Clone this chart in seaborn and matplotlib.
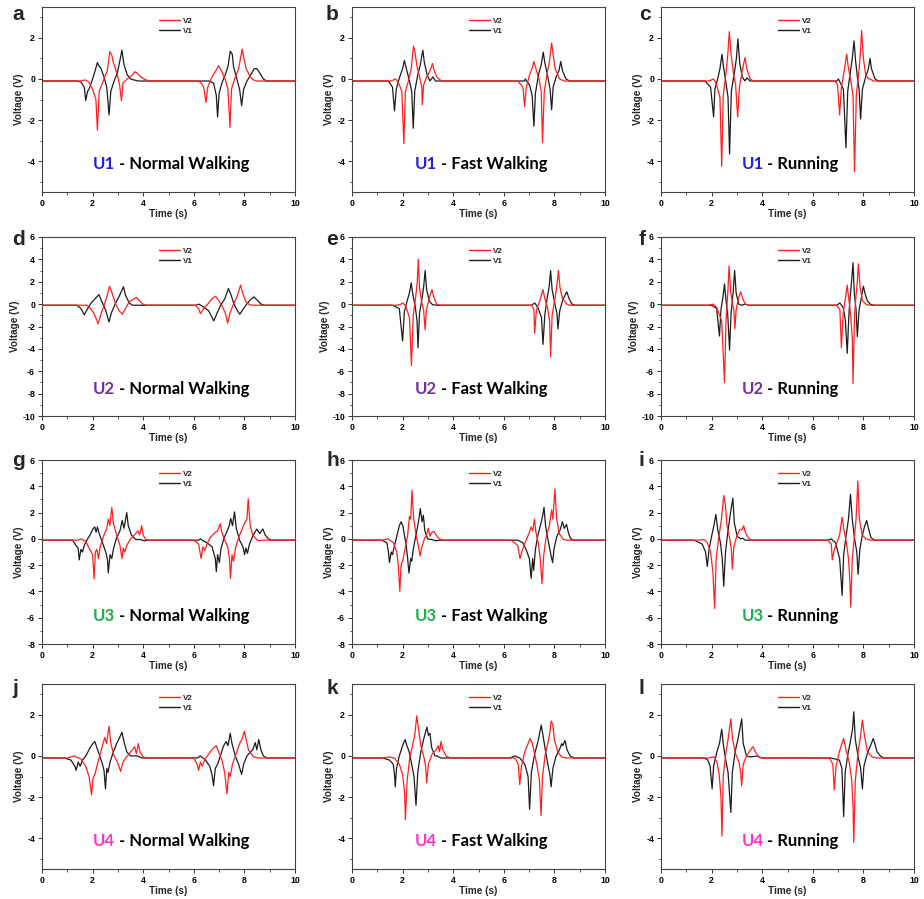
import matplotlib
matplotlib.use('Agg')
import matplotlib.pyplot as plt
import seaborn as sns
import pandas as pd
from matplotlib.offsetbox import TextArea, HPacker, AnchoredOffsetbox
from matplotlib.lines import Line2D
from matplotlib.ticker import MultipleLocator

# ---------------- data: (time s, voltage V) vertices ----------------
A_V2 = [(0,-0.1),(1.5,-0.1),(1.7,-0.05),(1.85,-0.15),(2.0,-0.5),(2.13,-1.0),(2.19,-2.49),(2.26,-0.6),(2.39,-0.2),(2.45,0.0),(2.58,0.4),(2.68,1.33),(2.76,1.15),(2.82,0.8),(2.98,0.2),(3.07,-0.3),(3.14,-1.06),(3.2,-0.2),(3.37,0.0),(3.57,0.2),(3.67,0.35),(3.77,0.28),(3.9,0.1),(4.1,-0.05),(4.3,-0.1),(6.1,-0.1),(6.26,-0.15),(6.39,-0.4),(6.48,-1.15),(6.55,-0.4),(6.72,0.1),(6.92,0.5),(6.98,0.65),(7.09,0.4),(7.24,0.0),(7.35,-0.5),(7.43,-2.35),(7.49,-0.5),(7.64,0.1),(7.77,0.5),(7.86,1.1),(7.91,1.45),(7.98,1.0),(8.07,0.5),(8.23,0.1),(8.36,-0.05),(8.5,-0.1),(10,-0.1)]
A_V1 = [(0,-0.1),(1.4,-0.1),(1.54,-0.15),(1.67,-0.4),(1.73,-1.05),(1.8,-0.6),(1.86,-0.5),(2.0,0.0),(2.1,0.4),(2.19,0.8),(2.26,0.6),(2.32,0.55),(2.45,0.1),(2.56,-0.4),(2.65,-1.75),(2.72,-0.6),(2.85,-0.1),(2.98,0.3),(3.08,0.9),(3.16,1.4),(3.24,0.7),(3.37,0.2),(3.5,0.0),(3.64,-0.05),(3.8,-0.1),(6.6,-0.1),(6.78,-0.2),(6.89,-0.8),(6.94,-1.85),(7.0,-0.7),(7.11,-0.2),(7.24,0.2),(7.35,0.6),(7.44,1.35),(7.52,1.2),(7.57,0.6),(7.7,0.0),(7.81,-0.5),(7.89,-1.3),(7.97,-0.5),(8.1,-0.1),(8.25,0.2),(8.39,0.5),(8.49,0.5),(8.6,0.3),(8.75,0.0),(8.88,-0.1),(10,-0.1)]
B_V2 = [(0,-0.1),(1.55,-0.1),(1.64,-0.05),(1.7,0.0),(1.76,-0.05),(1.84,-0.2),(1.97,-0.6),(2.05,-3.15),(2.11,-0.6),(2.23,-0.1),(2.34,0.5),(2.43,1.6),(2.49,1.3),(2.57,0.6),(2.69,0.0),(2.76,-0.4),(2.78,-1.25),(2.83,-0.3),(2.95,0.1),(3.08,0.4),(3.18,0.75),(3.25,0.4),(3.35,0.1),(3.48,-0.05),(3.6,-0.1),(6.45,-0.1),(6.56,-0.12),(6.76,-0.4),(6.82,-1.35),(6.89,-0.4),(7.02,0.2),(7.14,0.6),(7.19,0.85),(7.27,0.5),(7.39,0.0),(7.48,-0.6),(7.53,-3.1),(7.6,-0.6),(7.72,0.3),(7.81,0.9),(7.89,1.75),(7.95,1.2),(8.03,0.5),(8.2,0.0),(8.4,-0.1),(10,-0.1)]
B_V1 = [(0,-0.1),(1.44,-0.1),(1.6,-0.4),(1.68,-1.55),(1.75,-0.5),(1.86,0.0),(2.0,0.5),(2.07,0.9),(2.15,0.5),(2.27,-0.1),(2.36,-0.6),(2.42,-2.4),(2.48,-0.6),(2.6,0.2),(2.7,0.7),(2.8,1.4),(2.86,0.8),(2.97,0.2),(3.08,-0.1),(3.2,0.1),(3.3,-0.1),(6.7,-0.1),(6.82,-0.1),(6.85,0.0),(6.9,-0.1),(7.02,-0.3),(7.12,-0.8),(7.19,-2.3),(7.25,-0.7),(7.37,0.2),(7.48,0.7),(7.56,1.3),(7.62,0.8),(7.74,0.1),(7.83,-0.5),(7.89,-1.5),(7.95,-0.4),(8.07,0.1),(8.18,0.4),(8.25,0.85),(8.32,0.4),(8.46,0.0),(8.6,-0.1),(10,-0.1)]
C_V2 = [(0,-0.1),(1.87,-0.1),(2.0,-0.05),(2.07,0.0),(2.13,-0.1),(2.2,-0.3),(2.33,-0.9),(2.4,-4.25),(2.46,-0.8),(2.57,0.3),(2.64,1.2),(2.7,2.3),(2.77,1.2),(2.86,0.3),(2.95,-0.3),(3.03,-1.85),(3.1,-0.4),(3.21,0.4),(3.32,1.05),(3.39,0.5),(3.52,0.0),(3.65,-0.1),(6.88,-0.1),(6.98,-0.3),(7.06,-1.75),(7.13,-0.4),(7.23,0.3),(7.34,1.2),(7.4,0.6),(7.5,-0.1),(7.59,-0.8),(7.65,-4.5),(7.72,-0.8),(7.83,0.5),(7.88,1.2),(7.93,2.35),(8.0,1.0),(8.09,0.2),(8.2,0.0),(8.26,0.0),(8.39,-0.1),(10,-0.1)]
C_V1 = [(0,-0.1),(1.74,-0.1),(1.96,-0.4),(2.08,-1.85),(2.13,-0.5),(2.24,0.0),(2.33,0.5),(2.41,1.2),(2.48,0.5),(2.57,-0.2),(2.65,-0.9),(2.71,-3.65),(2.78,-0.6),(2.9,0.3),(2.98,1.0),(3.04,1.95),(3.11,0.8),(3.21,0.1),(3.32,-0.1),(3.39,0.05),(3.52,-0.1),(6.95,-0.1),(7.01,0.0),(7.05,-0.1),(7.21,-0.5),(7.31,-3.35),(7.38,-0.6),(7.48,0.3),(7.56,1.0),(7.63,1.85),(7.69,0.9),(7.77,0.0),(7.83,-0.5),(7.89,-1.95),(7.96,-0.5),(8.09,0.1),(8.2,0.5),(8.26,1.0),(8.32,0.5),(8.46,0.0),(8.59,-0.1),(10,-0.1)]
D_V2 = [(0,-0.1),(1.75,-0.1),(1.84,-0.2),(2.05,-0.8),(2.22,-1.75),(2.34,-0.8),(2.47,0.0),(2.58,0.8),(2.67,1.6),(2.77,1.0),(2.91,0.0),(3.05,-0.6),(3.18,-0.9),(3.32,-0.3),(3.45,0.2),(3.65,0.5),(3.74,0.6),(3.85,0.3),(3.98,0.0),(4.12,-0.1),(6.06,-0.1),(6.19,-0.4),(6.26,-0.85),(6.39,-0.4),(6.59,0.1),(6.72,0.5),(6.86,0.7),(6.99,0.3),(7.13,-0.2),(7.26,-0.9),(7.34,-1.7),(7.43,-0.8),(7.59,0.1),(7.73,0.8),(7.85,1.7),(7.93,1.0),(8.06,0.2),(8.2,-0.05),(8.33,-0.1),(10,-0.1)]
D_V1 = [(0,-0.1),(1.38,-0.1),(1.54,-0.4),(1.67,-0.95),(1.78,-0.5),(1.94,0.1),(2.15,0.6),(2.25,0.85),(2.35,0.3),(2.51,-0.5),(2.65,-1.6),(2.74,-0.8),(2.91,0.1),(3.05,0.7),(3.22,1.55),(3.3,0.8),(3.45,0.1),(3.58,-0.1),(6.1,-0.1),(6.19,0.0),(6.32,-0.15),(6.59,-0.6),(6.79,-1.5),(6.92,-0.8),(7.06,-0.1),(7.23,0.5),(7.37,1.4),(7.46,0.9),(7.59,0.0),(7.73,-0.6),(7.82,-0.9),(7.99,-0.3),(8.2,0.3),(8.37,0.65),(8.49,0.4),(8.66,0.0),(8.8,-0.1),(10,-0.1)]
E_V2 = [(0,-0.1),(1.74,-0.1),(1.9,-0.05),(2.0,0.1),(2.07,-0.05),(2.14,-0.3),(2.27,-1.2),(2.35,-5.5),(2.42,-1.0),(2.51,0.5),(2.58,2.0),(2.62,4.0),(2.67,1.5),(2.75,0.2),(2.83,-0.5),(2.89,-2.3),(2.94,-0.5),(3.05,0.5),(3.16,1.3),(3.24,0.6),(3.34,0.0),(3.48,-0.1),(7.09,-0.1),(7.19,-0.5),(7.22,-2.6),(7.29,-0.5),(7.42,0.3),(7.55,1.3),(7.62,0.5),(7.73,-0.3),(7.81,-1.5),(7.85,-4.7),(7.91,-1.0),(8.02,0.5),(8.09,1.5),(8.16,3.0),(8.22,1.5),(8.32,0.5),(8.49,0.0),(8.62,-0.1),(10,-0.1)]
E_V1 = [(0,-0.1),(1.6,-0.1),(1.87,-0.4),(2.0,-3.3),(2.07,-0.7),(2.18,0.3),(2.27,1.0),(2.34,1.9),(2.41,0.8),(2.5,-0.2),(2.57,-1.5),(2.61,-3.9),(2.67,-0.8),(2.77,0.5),(2.83,1.5),(2.89,3.0),(2.95,1.3),(3.05,0.3),(3.18,-0.05),(3.34,-0.1),(7.1,-0.1),(7.22,0.1),(7.35,-0.3),(7.49,-1.2),(7.55,-3.6),(7.62,-1.0),(7.71,0.5),(7.79,1.5),(7.85,3.0),(7.91,1.3),(8.02,0.0),(8.1,-0.8),(8.14,-2.2),(8.21,-0.6),(8.32,0.3),(8.42,0.8),(8.49,1.1),(8.58,0.5),(8.69,0.0),(8.82,-0.1),(10,-0.1)]
F_V2 = [(0,-0.1),(1.87,-0.1),(2.07,0.0),(2.2,-0.3),(2.4,-1.5),(2.51,-7.0),(2.57,-1.5),(2.64,1.0),(2.69,3.4),(2.75,1.2),(2.83,0.0),(2.88,-0.5),(2.92,-2.2),(2.97,-0.5),(3.07,0.6),(3.15,1.1),(3.23,0.5),(3.33,0.0),(3.47,-0.1),(6.93,-0.1),(7.07,-0.5),(7.13,-3.9),(7.2,-0.8),(7.29,0.5),(7.36,1.7),(7.43,0.3),(7.49,-0.8),(7.56,-3.0),(7.59,-7.1),(7.65,-1.0),(7.71,0.8),(7.76,2.0),(7.8,3.6),(7.87,1.5),(7.96,0.3),(8.13,-0.05),(8.27,-0.1),(10,-0.1)]
F_V1 = [(0,-0.1),(2.0,-0.1),(2.2,-0.4),(2.31,-2.85),(2.37,-0.5),(2.44,0.5),(2.51,1.8),(2.57,0.3),(2.64,-1.0),(2.71,-4.1),(2.77,-0.8),(2.85,1.0),(2.91,3.0),(2.97,1.0),(3.07,0.0),(3.2,-0.1),(3.33,0.0),(3.47,-0.1),(6.95,-0.1),(7.07,0.1),(7.2,-0.3),(7.29,-1.5),(7.36,-4.4),(7.43,-0.8),(7.49,1.0),(7.55,2.5),(7.59,3.7),(7.64,1.0),(7.71,-0.5),(7.76,-2.9),(7.83,-0.5),(7.92,0.6),(8.0,1.6),(8.07,0.9),(8.16,0.3),(8.27,0.0),(8.4,-0.1),(10,-0.1)]
G_V2 = [(0,-0.1),(1.4,-0.1),(1.54,0.0),(1.73,-0.2),(1.86,-0.7),(2.0,-1.2),(2.06,-3.05),(2.11,-1.0),(2.17,-0.8),(2.23,-1.5),(2.3,-0.6),(2.43,0.2),(2.56,0.8),(2.62,1.5),(2.68,1.0),(2.76,2.4),(2.82,1.2),(2.95,0.3),(3.08,-0.5),(3.16,-1.5),(3.21,-0.7),(3.27,-1.0),(3.35,-0.5),(3.5,0.0),(3.7,0.4),(3.79,0.6),(3.86,0.3),(3.94,1.0),(4.0,0.3),(4.09,-0.05),(4.23,-0.1),(6.0,-0.1),(6.19,-0.4),(6.29,-1.5),(6.36,-0.6),(6.43,-0.9),(6.52,-0.4),(6.65,0.1),(6.85,0.5),(6.94,0.6),(7.05,1.15),(7.11,0.5),(7.2,0.0),(7.34,-0.6),(7.41,-1.5),(7.45,-3.0),(7.51,-1.2),(7.57,-1.7),(7.65,-0.7),(7.77,0.1),(7.9,0.7),(8.03,1.3),(8.1,1.5),(8.15,3.05),(8.23,1.0),(8.33,0.3),(8.46,0.0),(8.56,-0.15),(8.75,-0.1),(10,-0.1)]
G_V1 = [(0,-0.1),(1.21,-0.1),(1.34,-0.5),(1.43,-0.7),(1.47,-1.6),(1.54,-0.8),(1.6,-1.0),(1.67,-0.5),(1.77,-0.1),(1.9,0.3),(2.03,0.8),(2.09,0.9),(2.14,0.5),(2.19,0.9),(2.26,0.4),(2.39,-0.3),(2.52,-1.0),(2.59,-1.6),(2.62,-2.6),(2.69,-1.2),(2.76,-1.5),(2.82,-0.8),(2.95,0.1),(3.08,0.6),(3.17,1.4),(3.24,0.8),(3.35,2.0),(3.41,1.0),(3.53,0.3),(3.7,-0.05),(3.9,-0.05),(4.03,-0.15),(4.16,-0.1),(6.19,-0.1),(6.26,0.0),(6.33,-0.1),(6.52,-0.3),(6.72,-0.6),(6.85,-1.5),(6.89,-2.5),(6.94,-1.2),(7.01,-1.8),(7.07,-0.8),(7.2,0.1),(7.3,0.5),(7.4,1.0),(7.46,1.55),(7.53,1.0),(7.61,2.05),(7.68,0.8),(7.81,-0.1),(7.94,-0.6),(8.01,-1.2),(8.06,-0.7),(8.12,-1.1),(8.2,-0.4),(8.33,0.2),(8.49,0.75),(8.6,0.4),(8.73,0.75),(8.82,0.3),(8.95,0.0),(9.08,-0.1),(10,-0.1)]
H_V2 = [(0,-0.1),(1.18,-0.1),(1.42,0.0),(1.64,-0.3),(1.77,-1.0),(1.83,-2.0),(1.89,-4.0),(1.94,-2.0),(2.01,-1.6),(2.1,-0.7),(2.2,0.3),(2.27,1.7),(2.32,1.5),(2.37,3.7),(2.44,1.5),(2.53,0.3),(2.62,-0.5),(2.69,-1.3),(2.75,-0.7),(2.86,0.0),(2.95,0.3),(3.01,0.8),(3.08,0.2),(3.15,0.5),(3.24,0.55),(3.32,0.3),(3.45,0.0),(3.58,-0.1),(6.29,-0.1),(6.55,-0.5),(6.64,-1.5),(6.71,-1.0),(6.82,-0.4),(6.97,0.3),(7.08,0.9),(7.14,0.6),(7.21,1.5),(7.27,0.5),(7.36,-0.3),(7.44,-1.5),(7.51,-3.4),(7.58,-1.2),(7.67,0.1),(7.8,1.0),(7.89,2.2),(7.94,1.5),(8.02,3.8),(8.09,1.5),(8.19,0.4),(8.36,-0.05),(8.52,-0.1),(10,-0.1)]
H_V1 = [(0,-0.1),(1.18,-0.1),(1.38,-0.3),(1.44,-1.0),(1.48,-1.8),(1.55,-1.0),(1.6,-1.2),(1.68,-0.5),(1.77,0.2),(1.87,1.0),(1.94,1.3),(2.01,1.0),(2.07,0.3),(2.14,-0.5),(2.2,-1.5),(2.25,-2.6),(2.32,-1.5),(2.36,-1.7),(2.42,-0.8),(2.53,0.3),(2.62,1.2),(2.7,2.3),(2.77,1.3),(2.82,1.8),(2.88,0.6),(2.99,0.0),(3.15,-0.05),(3.32,-0.15),(3.47,-0.1),(6.55,-0.1),(6.75,-0.3),(6.88,-0.8),(7.01,-1.5),(7.08,-3.0),(7.14,-1.5),(7.18,-2.4),(7.25,-0.8),(7.34,0.2),(7.47,1.2),(7.54,1.8),(7.59,2.4),(7.65,1.0),(7.76,-0.2),(7.86,-1.2),(7.93,-1.8),(7.99,-0.7),(8.1,0.2),(8.23,0.7),(8.32,1.3),(8.39,0.8),(8.48,1.1),(8.56,0.4),(8.65,0.0),(8.78,-0.1),(10,-0.1)]
I_V2 = [(0,-0.1),(1.44,-0.1),(1.7,-0.05),(1.83,-0.3),(1.96,-1.0),(2.05,-2.5),(2.12,-5.3),(2.18,-1.5),(2.29,0.2),(2.39,1.5),(2.48,3.3),(2.55,2.5),(2.61,1.0),(2.72,0.0),(2.78,-0.8),(2.82,-2.3),(2.88,-0.6),(3.01,0.3),(3.11,0.7),(3.2,0.7),(3.27,1.0),(3.33,0.5),(3.44,0.1),(3.59,-0.1),(6.6,-0.1),(6.73,-0.4),(6.77,-1.6),(6.84,-0.9),(6.93,-0.4),(7.06,0.3),(7.16,1.65),(7.22,0.8),(7.32,-0.2),(7.41,-1.5),(7.46,-3.0),(7.5,-5.2),(7.56,-1.5),(7.65,0.3),(7.71,1.5),(7.78,4.4),(7.84,1.5),(7.95,0.3),(8.1,0.0),(8.3,-0.1),(10,-0.1)]
I_V1 = [(0,-0.1),(1.31,-0.1),(1.63,-0.4),(1.76,-1.0),(1.83,-2.1),(1.9,-0.8),(2.0,0.2),(2.09,1.0),(2.17,1.85),(2.25,0.6),(2.35,-0.3),(2.42,-1.5),(2.48,-3.6),(2.55,-1.0),(2.64,0.5),(2.75,2.0),(2.84,3.1),(2.9,1.2),(3.01,0.2),(3.14,0.0),(3.22,0.05),(3.33,-0.1),(6.6,-0.1),(6.73,0.0),(6.9,-0.3),(7.06,-1.5),(7.16,-4.3),(7.22,-1.2),(7.32,0.3),(7.41,1.5),(7.49,3.4),(7.56,1.5),(7.65,0.0),(7.74,-1.0),(7.79,-2.7),(7.86,-0.8),(7.95,0.2),(8.04,0.9),(8.13,1.4),(8.2,0.8),(8.3,0.1),(8.43,-0.1),(10,-0.1)]
J_V2 = [(0,-0.1),(1.01,-0.1),(1.27,0.0),(1.54,-0.15),(1.73,-0.5),(1.86,-1.0),(1.96,-1.9),(2.01,-1.1),(2.09,-0.9),(2.17,-0.5),(2.3,0.1),(2.39,0.5),(2.48,0.9),(2.55,0.6),(2.65,1.45),(2.72,0.6),(2.85,0.0),(2.98,-0.3),(3.11,-0.75),(3.2,-0.3),(3.37,0.0),(3.57,0.3),(3.66,0.45),(3.73,0.1),(3.81,0.6),(3.87,0.2),(4.0,-0.05),(4.16,-0.1),(6.0,-0.1),(6.13,-0.4),(6.19,-0.7),(6.26,-0.3),(6.33,-0.5),(6.42,-0.2),(6.59,0.1),(6.78,0.4),(6.89,0.5),(6.98,0.2),(7.11,-0.2),(7.22,-0.8),(7.31,-1.85),(7.38,-0.8),(7.44,-1.0),(7.53,-0.4),(7.7,0.2),(7.81,0.6),(7.9,0.8),(8.0,1.2),(8.07,0.8),(8.16,0.3),(8.36,-0.05),(8.56,-0.1),(10,-0.1)]
J_V1 = [(0,-0.1),(0.88,-0.1),(1.14,-0.2),(1.3,-0.5),(1.35,-0.7),(1.43,-0.3),(1.51,-0.5),(1.6,-0.2),(1.73,0.0),(1.9,0.4),(2.01,0.6),(2.09,0.7),(2.17,0.4),(2.28,0.0),(2.39,-0.4),(2.45,-0.7),(2.51,-1.6),(2.56,-0.6),(2.61,-0.8),(2.69,-0.3),(2.82,0.2),(2.95,0.6),(3.07,0.9),(3.16,1.15),(3.24,0.7),(3.35,0.2),(3.5,0.0),(3.77,0.0),(3.96,-0.1),(6.13,-0.1),(6.26,0.0),(6.46,-0.2),(6.63,-0.5),(6.72,-0.9),(6.78,-1.45),(6.85,-0.6),(6.94,-0.4),(7.05,0.0),(7.18,0.5),(7.28,0.7),(7.35,0.5),(7.44,1.1),(7.51,0.6),(7.64,0.0),(7.77,-0.4),(7.89,-0.9),(7.97,-0.4),(8.1,0.0),(8.25,0.2),(8.33,0.3),(8.43,0.65),(8.49,0.3),(8.57,0.8),(8.65,0.3),(8.75,0.0),(8.88,-0.1),(10,-0.1)]
K_V2 = [(0,-0.1),(1.21,-0.1),(1.48,-0.05),(1.67,-0.1),(1.87,-0.4),(2.0,-0.9),(2.08,-1.8),(2.11,-3.1),(2.18,-1.2),(2.28,-0.1),(2.39,0.5),(2.48,1.0),(2.56,1.95),(2.62,1.4),(2.72,0.5),(2.85,-0.1),(2.91,-0.5),(2.95,-1.3),(3.02,-0.4),(3.17,0.1),(3.33,0.3),(3.41,0.5),(3.46,0.2),(3.52,0.7),(3.59,0.3),(3.72,0.0),(3.89,-0.1),(6.44,-0.1),(6.57,-0.4),(6.63,-1.4),(6.7,-0.5),(6.83,0.2),(6.96,0.6),(7.04,0.85),(7.13,0.6),(7.22,0.1),(7.32,-0.5),(7.41,-1.2),(7.47,-2.9),(7.53,-1.0),(7.64,0.1),(7.74,0.6),(7.82,1.1),(7.87,1.7),(7.94,1.5),(8.0,0.8),(8.13,0.2),(8.29,-0.05),(8.46,-0.1),(10,-0.1)]
K_V1 = [(0,-0.1),(1.21,-0.1),(1.48,-0.2),(1.63,-0.4),(1.68,-0.9),(1.71,-1.5),(1.76,-0.6),(1.87,0.0),(2.0,0.5),(2.1,0.8),(2.17,0.5),(2.26,0.2),(2.36,-0.4),(2.45,-1.0),(2.53,-2.4),(2.6,-0.8),(2.72,0.2),(2.85,0.9),(2.96,1.4),(3.02,1.0),(3.08,1.1),(3.15,0.4),(3.28,0.0),(3.37,0.0),(3.5,-0.1),(6.24,-0.1),(6.44,0.0),(6.63,-0.1),(6.83,-0.4),(6.96,-1.0),(7.02,-2.6),(7.09,-0.8),(7.22,0.1),(7.35,0.7),(7.48,1.5),(7.55,1.0),(7.64,0.3),(7.74,-0.4),(7.82,-0.9),(7.87,-1.5),(7.94,-0.6),(8.07,0.0),(8.2,0.3),(8.29,0.6),(8.33,0.5),(8.42,0.75),(8.5,0.3),(8.62,0.0),(8.79,-0.1),(10,-0.1)]
L_V2 = [(0,-0.1),(1.85,-0.1),(2.11,-0.05),(2.21,-0.3),(2.3,-0.9),(2.37,-2.0),(2.41,-3.9),(2.46,-1.0),(2.56,0.1),(2.65,0.8),(2.76,1.8),(2.83,0.8),(2.95,0.1),(3.08,-0.3),(3.15,-0.8),(3.19,-1.45),(3.25,-0.4),(3.38,0.0),(3.54,0.3),(3.63,0.45),(3.73,0.2),(3.86,-0.05),(3.99,-0.1),(6.66,-0.1),(6.79,-0.4),(6.85,-1.65),(6.92,-0.5),(7.05,0.2),(7.15,0.6),(7.22,0.85),(7.31,0.3),(7.44,-0.3),(7.54,-1.2),(7.59,-2.5),(7.62,-4.2),(7.68,-1.2),(7.8,0.3),(7.89,1.0),(7.96,1.75),(8.04,1.0),(8.16,0.2),(8.35,-0.05),(8.54,-0.1),(10,-0.1)]
L_V1 = [(0,-0.1),(1.72,-0.1),(1.85,-0.2),(1.94,-0.5),(2.02,-1.6),(2.08,-0.5),(2.21,0.2),(2.31,0.6),(2.4,1.3),(2.47,0.5),(2.56,-0.2),(2.65,-0.8),(2.76,-2.75),(2.82,-0.8),(2.93,0.2),(3.04,0.8),(3.19,1.8),(3.25,0.6),(3.38,0.0),(3.54,-0.05),(3.8,0.0),(3.99,-0.1),(6.72,-0.1),(7.05,-0.2),(7.15,-0.6),(7.22,-2.95),(7.28,-0.8),(7.39,0.1),(7.5,0.8),(7.57,1.3),(7.62,2.15),(7.68,0.8),(7.8,-0.1),(7.89,-0.6),(7.96,-1.6),(8.02,-0.5),(8.15,0.1),(8.28,0.5),(8.39,0.85),(8.45,0.6),(8.54,0.2),(8.67,0.0),(8.8,-0.1),(10,-0.1)]

LETTERS = ['a', 'b', 'c', 'd', 'e', 'f', 'g', 'h', 'i', 'j', 'k', 'l']
USERS = ['U1', 'U2', 'U3', 'U4']
ACTIVITIES = ['Normal Walking', 'Fast Walking', 'Running']
SERIES_V2 = [A_V2, B_V2, C_V2, D_V2, E_V2, F_V2, G_V2, H_V2, I_V2, J_V2, K_V2, L_V2]
SERIES_V1 = [A_V1, B_V1, C_V1, D_V1, E_V1, F_V1, G_V1, H_V1, I_V1, J_V1, K_V1, L_V1]
Y_LIMITS = [(-5.5, 3.5), (-10, 6), (-8, 6), (-5.5, 3.5)]
Y_TICK_START = [-4, -10, -8, -4]
Y_TICK_END = [2, 6, 6, 2]

# ---------------- styling ----------------
USER_COLORS = ['#2121e0', '#7030a0', '#1aaf4b', '#ff33cc']
LINE_COLORS = {'V2': '#ff1f1f', 'V1': '#1c1c1c'}

sns.set_style('ticks')
plt.rcParams['font.family'] = ['Liberation Sans', 'DejaVu Sans']
plt.rcParams['font.weight'] = 'bold'
plt.rcParams['axes.labelweight'] = 'bold'
plt.rcParams['axes.unicode_minus'] = False

W, H = 924, 899
fig = plt.figure(figsize=(W / 100, H / 100), dpi=100)

col_left = [42, 352, 661]
col_width = 253
row_top = [7, 237, 460, 684]
row_bottom = [192, 416, 644, 869]
letter_x = [12, 326, 639]
letter_base = [20, 245, 466, 694]

for idx in range(12):
    r, c = divmod(idx, 3)
    ax = fig.add_axes([col_left[c] / W, 1 - row_bottom[r] / H,
                       col_width / W, (row_bottom[r] - row_top[r]) / H])
    frames = []
    for name, pts in (('V1', SERIES_V1[idx]), ('V2', SERIES_V2[idx])):
        d = pd.DataFrame(pts, columns=['Time', 'Voltage'])
        d['Series'] = name
        frames.append(d)
    df = pd.concat(frames, ignore_index=True)
    sns.lineplot(data=df, x='Time', y='Voltage', hue='Series', hue_order=['V1', 'V2'],
                 palette=LINE_COLORS, estimator=None, sort=False, legend=False,
                 lw=0.9, ax=ax)

    ax.set_xlim(0, 10)
    ax.set_ylim(*Y_LIMITS[r])
    ax.set_xticks(range(0, 11, 2))
    ax.set_yticks(range(Y_TICK_START[r], Y_TICK_END[r] + 1, 2))
    ax.xaxis.set_minor_locator(MultipleLocator(1))
    ax.yaxis.set_minor_locator(MultipleLocator(1))
    ax.tick_params(which='major', direction='out', length=3, width=0.7,
                   labelsize=6.3, pad=2, colors='#333333', labelcolor='black')
    ax.tick_params(which='minor', direction='out', length=1.8, width=0.6, colors='#333333')
    for lab in ax.get_xticklabels() + ax.get_yticklabels():
        lab.set_fontweight('bold')
    for s in ax.spines.values():
        s.set_color('#444444')
        s.set_linewidth(0.8)
    ax.set_xlabel('Time (s)', fontsize=7.2, labelpad=1)
    ax.set_ylabel('Voltage (V)', fontsize=7.2, labelpad=2)

    handles = [Line2D([], [], color=LINE_COLORS['V2'], lw=1.0),
               Line2D([], [], color=LINE_COLORS['V1'], lw=1.0)]
    ax.legend(handles, ['V2', 'V1'], loc='upper center', bbox_to_anchor=(0.53, 0.975),
              frameon=False, prop={'weight': 'bold', 'size': 5.8},
              handlelength=2.6, labelspacing=0.3, handletextpad=0.4, borderpad=0.2)

    box = HPacker(children=[
        TextArea(USERS[r], textprops=dict(color=USER_COLORS[r], fontsize=12,
                                          fontweight='bold', family=['Lato', 'DejaVu Sans'])),
        TextArea(' - ' + ACTIVITIES[c], textprops=dict(color='black', fontsize=12,
                                                       fontweight='bold', family=['Lato', 'DejaVu Sans'])),
    ], align='baseline', pad=0, sep=0)
    ab = AnchoredOffsetbox(loc='center', child=box, pad=0, borderpad=0, frameon=False,
                           bbox_to_anchor=(0.51, 0.15), bbox_transform=ax.transAxes)
    ax.add_artist(ab)

    fig.text(letter_x[c] / W, 1 - letter_base[r] / H, LETTERS[idx], fontsize=15,
             fontweight='bold', va='baseline', ha='left')

fig.savefig('out.png', dpi=100)
